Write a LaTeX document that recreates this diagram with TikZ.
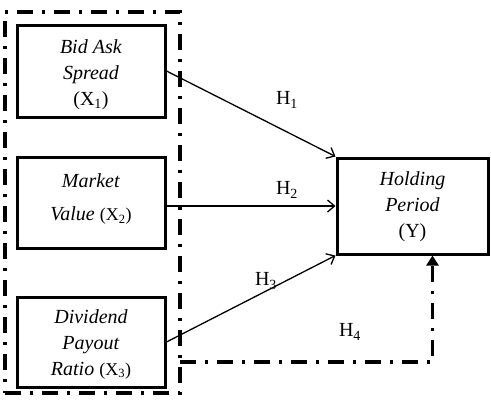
\documentclass[tikz,border=0pt]{standalone}
\usepackage{fontspec}
\setmainfont{Liberation Serif}
\usetikzlibrary{arrows.meta}
\begin{document}
\begin{tikzpicture}[x=1pt,y=-1pt,
  var/.style={draw, line width=3pt, minimum width=148pt, inner sep=0pt},
  vartext/.style={align=center, inner sep=0pt, font=\fontsize{20}{26}\selectfont},
  grpbox/.style={draw, line width=3.5pt, dash pattern=on 16pt off 9pt on 3pt off 9pt, minimum width=175pt, minimum height=381pt, inner sep=0pt},
  path/.style={line width=1.3pt, -{Straight Barb[length=7pt,width=12pt,line width=1.3pt]}},
  hyp/.style={font=\fontsize{20}{24}\selectfont}]
\useasboundingbox (0,0) rectangle (491,408);
\node[grpbox] (grp) at (92.5,202.5) {};
\node[var, minimum height=92pt] (x1) at (91,71) {};
\node[vartext] (x1t) at (91,75) {\textit{Bid Ask}\\\textit{Spread}\\(X\textsubscript{1})};
\node[var, minimum height=91pt] (x2) at (91,202.5) {};
\node[vartext] (x2t) at (91,199) {\textit{Market}\\[7pt]\textit{Value} {\fontsize{18}{26}\selectfont(X\textsubscript{2})}};
\node[var, minimum height=90pt] (x3) at (91,342) {};
\node[vartext] (x3t) at (91,344) {\textit{Dividend}\\\textit{Payout}\\\textit{Ratio} {\fontsize{18}{26}\selectfont(X\textsubscript{3})}};
\node[var, minimum width=151pt, minimum height=96pt] (y) at (412.5,206) {};
\node[vartext] (yt) at (412.5,207) {\textit{Holding}\\\textit{Period}\\(Y)};
\draw[path] (x1.east) -- (y.north west);
\draw[path] (x2.east |- y.west) -- (y.west);
\draw[path] (x3.east) -- (y.south west);
\coordinate (h4s) at (180,362);
\coordinate (h4e) at ([xshift=20pt]y.south);
\draw[line width=3.5pt, dash pattern=on 16pt off 9pt on 3pt off 9pt, -{Triangle[length=10pt,width=12pt]}] (h4s) -| (h4e);
\node[hyp] (h1) at (287,100) {H\textsubscript{1}};
\node[hyp] (h2) at (287,190) {H\textsubscript{2}};
\node[hyp] (h3) at (266,281) {H\textsubscript{3}};
\node[hyp] (h4) at (350,332) {H\textsubscript{4}};
\end{tikzpicture}
\end{document}
